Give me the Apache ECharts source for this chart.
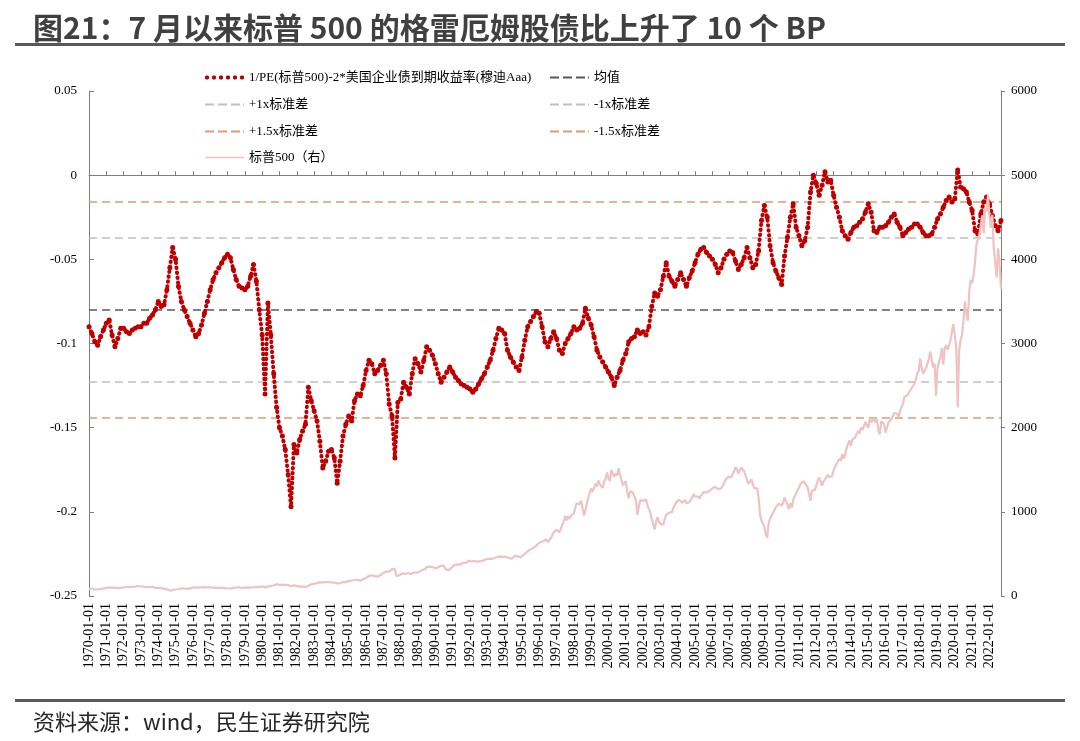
<!DOCTYPE html>
<html>
<head>
<meta charset="utf-8">
<title>格雷厄姆股债比</title>
<script src="https://cdn.jsdelivr.net/npm/echarts@6/dist/echarts.min.js"></script>
<style>
    html, body { margin: 0; padding: 0; background: #fff; }
    #main { width: 1080px; height: 741px; }
</style>
</head>
<body>
<div id="main"></div>
<script>
// 月度日期 1970-01 ~ 2022-09
var months = [];
for (var y = 1970; y <= 2022; y++) {
    for (var m = 1; m <= 12; m++) {
        if (y === 2022 && m > 9) break;
        months.push(y + '-' + (m < 10 ? '0' + m : m) + '-01');
    }
}

// 1/PE(标普500)-2*穆迪Aaa收益率, 每两个月一个点 (1月,3月,5月,7月,9月,11月)
var peValues = [
    -0.090, -0.094, -0.099, -0.101, -0.096, -0.092,
    -0.088, -0.086, -0.095, -0.102, -0.097, -0.091,
    -0.091, -0.093, -0.094, -0.092, -0.091, -0.090,
    -0.090, -0.088, -0.088, -0.085, -0.083, -0.080,
    -0.075, -0.078, -0.077, -0.068, -0.055, -0.043,
    -0.050, -0.066, -0.075, -0.080, -0.084, -0.088,
    -0.092, -0.096, -0.094, -0.089, -0.082, -0.075,
    -0.068, -0.062, -0.058, -0.055, -0.052, -0.049,
    -0.047, -0.049, -0.056, -0.062, -0.066, -0.067,
    -0.068, -0.066, -0.060, -0.053, -0.063, -0.080,
    -0.095, -0.130, -0.076, -0.095, -0.118, -0.138,
    -0.150, -0.155, -0.163, -0.178, -0.197, -0.160,
    -0.165, -0.157, -0.152, -0.148, -0.126, -0.134,
    -0.140, -0.146, -0.158, -0.174, -0.170, -0.164,
    -0.163, -0.168, -0.183, -0.170, -0.155, -0.148,
    -0.143, -0.146, -0.134, -0.130, -0.131, -0.125,
    -0.116, -0.110, -0.112, -0.118, -0.116, -0.113,
    -0.110, -0.118, -0.136, -0.143, -0.168, -0.135,
    -0.133, -0.123, -0.126, -0.130, -0.118, -0.109,
    -0.112, -0.117, -0.110, -0.102, -0.104, -0.107,
    -0.112, -0.118, -0.123, -0.120, -0.117, -0.114,
    -0.117, -0.120, -0.122, -0.124, -0.125, -0.126,
    -0.127, -0.129, -0.127, -0.124, -0.121, -0.118,
    -0.114, -0.110, -0.104, -0.097, -0.091, -0.092,
    -0.094, -0.104, -0.108, -0.111, -0.114, -0.116,
    -0.108, -0.098, -0.090, -0.087, -0.084, -0.081,
    -0.082, -0.090, -0.099, -0.102, -0.097, -0.093,
    -0.097, -0.104, -0.106, -0.100, -0.097, -0.094,
    -0.090, -0.092, -0.091, -0.088, -0.079, -0.085,
    -0.089, -0.096, -0.104, -0.108, -0.111, -0.114,
    -0.117, -0.120, -0.125, -0.120, -0.116, -0.110,
    -0.106, -0.099, -0.097, -0.096, -0.092, -0.094,
    -0.093, -0.095, -0.090, -0.078, -0.070, -0.072,
    -0.068, -0.060, -0.052, -0.060, -0.063, -0.066,
    -0.062, -0.058, -0.062, -0.066, -0.061, -0.057,
    -0.052, -0.047, -0.044, -0.043, -0.046, -0.048,
    -0.050, -0.053, -0.058, -0.055, -0.050, -0.047,
    -0.045, -0.046, -0.051, -0.056, -0.053, -0.049,
    -0.043, -0.049, -0.055, -0.053, -0.045, -0.027,
    -0.018, -0.025, -0.042, -0.052, -0.057, -0.061,
    -0.065, -0.048, -0.037, -0.025, -0.017, -0.031,
    -0.036, -0.042, -0.039, -0.031, -0.010, 0.000,
    -0.005, -0.012, -0.006, 0.002, -0.004, -0.003,
    -0.012, -0.019, -0.025, -0.033, -0.036, -0.038,
    -0.034, -0.031, -0.030, -0.028, -0.026, -0.022,
    -0.017, -0.022, -0.033, -0.034, -0.031, -0.031,
    -0.030, -0.028, -0.025, -0.023, -0.028, -0.031,
    -0.036, -0.034, -0.032, -0.031, -0.029, -0.029,
    -0.031, -0.034, -0.036, -0.036, -0.035, -0.031,
    -0.026, -0.023, -0.019, -0.015, -0.013, -0.016,
    -0.014, 0.003, -0.007, -0.008, -0.010, -0.016,
    -0.021, -0.033, -0.035, -0.023, -0.016, -0.013,
    -0.017, -0.024, -0.030, -0.033, -0.027
];

// 标普500 月度 (右轴)
var spxValues = [
    85, 90, 89, 82, 77, 73, 78, 82, 84, 83, 87, 92,
    96, 97, 100, 104, 100, 99, 96, 99, 98, 94, 94, 102,
    104, 107, 107, 108, 110, 107, 107, 111, 111, 112, 117, 118,
    116, 112, 112, 107, 104, 104, 108, 104, 108, 108, 96, 98,
    97, 96, 94, 90, 87, 86, 79, 72, 64, 74, 70, 69,
    77, 82, 83, 87, 91, 95, 89, 87, 84, 89, 91, 90,
    101, 100, 103, 102, 100, 104, 103, 103, 105, 103, 102, 107,
    102, 100, 98, 98, 96, 100, 99, 97, 97, 92, 95, 95,
    89, 87, 89, 97, 97, 96, 101, 103, 103, 93, 95, 96,
    100, 96, 102, 102, 99, 103, 104, 109, 109, 102, 106, 108,
    114, 114, 102, 106, 111, 114, 122, 122, 125, 127, 141, 136,
    130, 131, 136, 133, 133, 131, 131, 123, 116, 122, 126, 122,
    120, 113, 112, 116, 112, 110, 107, 120, 120, 134, 139, 141,
    145, 148, 153, 164, 162, 168, 163, 164, 166, 164, 166, 165,
    163, 157, 159, 160, 151, 153, 151, 167, 166, 166, 163, 167,
    180, 181, 181, 180, 190, 192, 191, 188, 182, 190, 202, 211,
    212, 227, 239, 235, 247, 251, 236, 253, 231, 244, 249, 242,
    274, 284, 292, 288, 290, 304, 319, 330, 322, 235, 230, 247,
    257, 268, 259, 261, 262, 274, 272, 262, 272, 279, 274, 278,
    297, 289, 295, 310, 321, 318, 346, 351, 349, 340, 346, 353,
    329, 332, 340, 331, 361, 358, 356, 323, 306, 304, 322, 330,
    344, 367, 375, 375, 390, 371, 388, 395, 388, 392, 375, 417,
    409, 413, 404, 415, 415, 408, 424, 414, 418, 419, 431, 436,
    439, 443, 452, 440, 450, 451, 448, 464, 459, 468, 462, 466,
    482, 467, 446, 451, 457, 444, 458, 475, 463, 472, 454, 459,
    470, 487, 501, 515, 533, 545, 562, 562, 584, 582, 605, 616,
    636, 640, 646, 654, 669, 671, 640, 652, 687, 705, 757, 741,
    786, 791, 757, 801, 848, 885, 954, 899, 947, 915, 955, 970,
    980, 1049, 1102, 1112, 1091, 1134, 1121, 957, 1017, 1099, 1164, 1229,
    1280, 1238, 1286, 1335, 1302, 1373, 1329, 1320, 1283, 1363, 1389, 1469,
    1394, 1366, 1499, 1452, 1421, 1455, 1431, 1518, 1437, 1429, 1315, 1320,
    1366, 1240, 1160, 1249, 1256, 1224, 1211, 1134, 965, 1060, 1139, 1148,
    1130, 1107, 1147, 1077, 1067, 990, 912, 916, 790, 886, 936, 880,
    856, 841, 848, 917, 964, 975, 990, 1008, 996, 1051, 1058, 1112,
    1131, 1145, 1126, 1107, 1121, 1141, 1102, 1104, 1115, 1130, 1174, 1212,
    1181, 1204, 1181, 1157, 1192, 1191, 1234, 1220, 1229, 1207, 1249, 1248,
    1280, 1281, 1295, 1311, 1270, 1270, 1277, 1304, 1336, 1378, 1401, 1418,
    1438, 1407, 1421, 1482, 1531, 1503, 1455, 1474, 1527, 1549, 1481, 1468,
    1379, 1331, 1323, 1386, 1400, 1280, 1267, 1283, 1166, 969, 896, 903,
    826, 735, 690, 873, 919, 919, 987, 1021, 1057, 1036, 1096, 1115,
    1074, 1104, 1169, 1187, 1089, 1031, 1102, 1049, 1141, 1183, 1181, 1258,
    1286, 1327, 1326, 1364, 1345, 1321, 1292, 1219, 1131, 1253, 1247, 1258,
    1312, 1366, 1408, 1398, 1310, 1362, 1379, 1407, 1441, 1412, 1416, 1426,
    1498, 1515, 1569, 1598, 1631, 1606, 1686, 1633, 1682, 1757, 1806, 1848,
    1783, 1859, 1872, 1884, 1924, 1960, 1931, 2003, 1972, 2018, 2068, 2059,
    1995, 2105, 2068, 2086, 2107, 2063, 2104, 1972, 1920, 2079, 2080, 2044,
    1940, 1932, 2060, 2065, 2097, 2099, 2174, 2171, 2168, 2126, 2199, 2239,
    2279, 2364, 2363, 2384, 2412, 2423, 2470, 2472, 2519, 2575, 2648, 2674,
    2824, 2714, 2641, 2648, 2705, 2718, 2816, 2902, 2914, 2712, 2760, 2380,
    2704, 2784, 2834, 2946, 2752, 2942, 2980, 2926, 2977, 3038, 3141, 3231,
    3226, 2954, 2240, 2912, 3044, 3100, 3271, 3500, 3363, 3270, 3622, 3756,
    3714, 3811, 3973, 4181, 4204, 4298, 4395, 4523, 4308, 4605, 4567, 4766,
    4516, 4374, 4530, 4132, 4132, 3785, 4130, 3955, 3650
];

// 均值与标准差线
var bandNames = ['均值', '+1x标准差', '-1x标准差', '+1.5x标准差', '-1.5x标准差'];
var bandValues = [-0.0801, -0.0373, -0.1229, -0.0159, -0.1443];
var bandColors = ['#595959', '#BFBFBF', '#BFBFBF', '#DE9C70', '#DE9C70'];

var peName = '1/PE(标普500)-2*美国企业债到期收益率(穆迪Aaa)';
var spxName = '标普500（右）';

var serif = '"Liberation Serif", "Times New Roman", "Noto Sans CJK SC", serif';
var lastIndex = months.length - 1;

// 图例图标
var dotIcon = 'path://M1,0h2l1,1v2l-1,1h-2l-1,-1v-2z M8,0h2l1,1v2l-1,1h-2l-1,-1v-2z M15,0h2l1,1v2l-1,1h-2l-1,-1v-2z M22,0h2l1,1v2l-1,1h-2l-1,-1v-2z M29,0h2l1,1v2l-1,1h-2l-1,-1v-2z M36,0h2l1,1v2l-1,1h-2l-1,-1v-2z';
var dashIcon = 'path://M0,0h9v2h-9z M13,0h9v2h-9z M26,0h9v2h-9z M38,0h1v2h-1z';
var lineIcon = 'path://M0,0h39v1.5h-39z';

function yearStart(index, value) {
    return value.slice(5) === '01-01';
}

function makeLegend(name, icon, left, top) {
    return {
        data: [{name: name, icon: icon}],
        left: left,
        top: top,
        padding: 0,
        itemWidth: 39,
        itemHeight: 4,
        selectedMode: false,
        textStyle: {fontFamily: serif, fontSize: 13, color: '#000'}
    };
}

var series = [];
for (var i = 0; i < bandNames.length; i++) {
    series.push({
        name: bandNames[i],
        type: 'line',
        yAxisIndex: 0,
        data: [[0, bandValues[i]], [lastIndex, bandValues[i]]],
        showSymbol: false,
        silent: true,
        z: 2,
        itemStyle: {color: bandColors[i]},
        lineStyle: {color: bandColors[i], width: 1.5, type: [8, 5]}
    });
}
// 红色点线: 点 + 圆点虚线把点之间补齐
series.push({
    name: peName,
    type: 'line',
    yAxisIndex: 0,
    data: peValues.map(function (v, k) { return [k * 2, v]; }),
    symbol: 'circle',
    symbolSize: 5,
    showSymbol: true,
    showAllSymbol: true,
    z: 3,
    itemStyle: {color: '#C00000', opacity: 1},
    lineStyle: {color: '#C00000', width: 4, type: [0.5, 4.5], cap: 'round'}
});
series.push({
    name: spxName,
    type: 'line',
    yAxisIndex: 1,
    data: spxValues,
    showSymbol: false,
    z: 4,
    itemStyle: {color: '#EEC3C2'},
    lineStyle: {color: '#EEC3C2', width: 2.2}
});

var chart = echarts.init(document.getElementById('main'));
var option = {
    animation: false,
    backgroundColor: '#fff',
    grid: {left: 89, right: 79, top: 91, bottom: 145},
    legend: [
        makeLegend(peName, dotIcon, 205, 71),
        makeLegend('均值', dashIcon, 550, 71),
        makeLegend('+1x标准差', dashIcon, 205, 98),
        makeLegend('-1x标准差', dashIcon, 550, 98),
        makeLegend('+1.5x标准差', dashIcon, 205, 125),
        makeLegend('-1.5x标准差', dashIcon, 550, 125),
        makeLegend(spxName, lineIcon, 205, 151)
    ],
    xAxis: [
        {
            // 底部日期标签
            type: 'category',
            data: months,
            boundaryGap: false,
            position: 'bottom',
            axisLine: {show: false, onZero: false},
            axisTick: {show: false},
            splitLine: {show: false},
            axisLabel: {
                interval: yearStart,
                rotate: 90,
                margin: 7,
                fontFamily: serif,
                fontSize: 14,
                color: '#000'
            }
        },
        {
            // 0 处的横轴线和刻度
            type: 'category',
            data: months,
            boundaryGap: false,
            position: 'bottom',
            axisLine: {show: true, onZero: true, onZeroAxisIndex: 0, lineStyle: {color: '#7F7F7F', width: 1}},
            axisTick: {show: true, inside: true, length: 4, interval: yearStart, lineStyle: {color: '#7F7F7F'}},
            axisLabel: {show: false},
            splitLine: {show: false}
        }
    ],
    yAxis: [
        {
            type: 'value',
            min: -0.25,
            max: 0.05,
            interval: 0.05,
            position: 'left',
            axisLine: {show: true, lineStyle: {color: '#7F7F7F'}},
            axisTick: {show: true, inside: true, length: 5, lineStyle: {color: '#7F7F7F'}},
            splitLine: {show: false},
            axisLabel: {
                margin: 12,
                fontFamily: serif,
                fontSize: 13,
                color: '#000',
                formatter: function (v) { return String(+v.toFixed(2)); }
            }
        },
        {
            type: 'value',
            min: 0,
            max: 6000,
            interval: 1000,
            position: 'right',
            axisLine: {show: true, lineStyle: {color: '#7F7F7F'}},
            axisTick: {show: true, inside: false, length: 4, lineStyle: {color: '#7F7F7F'}},
            splitLine: {show: false},
            axisLabel: {
                margin: 10,
                fontFamily: serif,
                fontSize: 13,
                color: '#000',
                formatter: function (v) { return String(v); }
            }
        }
    ],
    series: series,
    graphic: [
        {
            type: 'text',
            left: 33,
            top: 13,
            style: {
                text: '图21：7 月以来标普 500 的格雷厄姆股债比上升了 10 个 BP',
                font: 'bold 30px "Noto Sans CJK SC", sans-serif',
                fill: '#404040'
            }
        },
        {type: 'rect', shape: {x: 15, y: 43, width: 1050, height: 3}, style: {fill: '#595959'}},
        {type: 'rect', shape: {x: 15, y: 699, width: 1050, height: 3}, style: {fill: '#595959'}},
        {
            type: 'text',
            left: 33,
            top: 711,
            style: {
                text: '资料来源：wind，民生证券研究院',
                font: '22px "Noto Sans CJK SC", sans-serif',
                fill: '#262626'
            }
        }
    ]
};
chart.setOption(option);
</script>
</body>
</html>
